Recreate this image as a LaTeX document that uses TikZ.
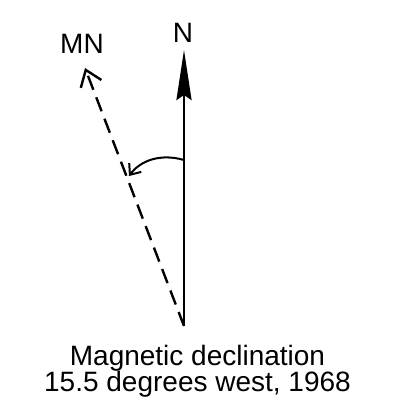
\documentclass[tikz,border=0pt]{standalone}
\usepackage{fontspec}
\setmainfont{Liberation Sans}
\usetikzlibrary{arrows.meta}
\begin{document}
\begin{tikzpicture}[x=1pt,y=-1pt,
  lbl/.style={font=\fontsize{28}{30}\selectfont, inner sep=0pt},
  northline/.style={line width=2.6pt, -{Stealth[length=50pt,width=15pt,inset=5pt]}},
  magline/.style={line width=2.4pt, dash pattern=on 15pt off 8pt, -{Straight Barb[length=15pt,width=22pt,line width=2.4pt]}},
  anglearc/.style={line width=2pt, -{Straight Barb[length=9pt,width=15pt,line width=2pt]}}]
\useasboundingbox (0,0) rectangle (395,408);
\coordinate (O) at (184,326);
\coordinate (Ntip) at (184,50);
\coordinate (MNtip) at (85,68);
\coordinate (A1) at (184,160);
\coordinate (A2) at (129,176);
\node[lbl] (N) at (183,33) {N};
\node[lbl] (MN) at (82,44) {MN};
\draw[northline] (O) -- (Ntip);
\draw[magline] (O) -- (MNtip);
\draw[anglearc] (A1) .. controls (160,153) and (140,161) .. (A2);
\node[lbl, anchor=base] (t1) at (197.5,365) {Magnetic declination};
\node[lbl, anchor=base] (t2) at (197.5,391) {15.5 degrees west, 1968};
\end{tikzpicture}
\end{document}
